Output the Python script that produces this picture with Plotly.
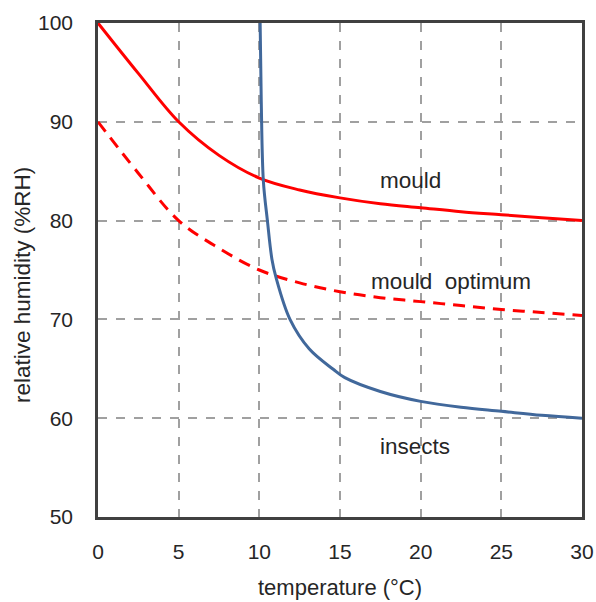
import plotly.graph_objects as go

# data
temp_mould = [0, 2.5, 5, 7.5, 10, 12.5, 15, 17.5, 20, 22.5, 25, 27.5, 30]
rh_mould = [100, 94.9, 90, 86.6, 84.3, 83.1, 82.3, 81.7, 81.3, 80.9, 80.6, 80.3, 80.0]
rh_mould_opt = [90, 84.8, 80, 77.2, 75.0, 73.7, 72.8, 72.2, 71.8, 71.4, 71.0, 70.7, 70.4]

temp_insects = [10.05, 10.12, 10.25, 10.5, 10.78, 11.04, 11.9, 13.1, 14.58, 15.3, 17.5, 20, 22.5, 25, 27.5, 30]
rh_insects = [100, 92, 84, 80, 76.1, 74.2, 70, 67.0, 64.95, 64.1, 62.7, 61.7, 61.1, 60.7, 60.3, 60.0]

x_ticks = [0, 5, 10, 15, 20, 25, 30]
y_ticks = [50, 60, 70, 80, 90, 100]

labels = ["mould", "mould  optimum", "insects"]
label_x = [19.37, 21.85, 19.67]
label_y = [84.1, 73.8, 57.1]

x_title = "temperature (°C)"
y_title = "relative humidity (%RH)"

FONT = "Liberation Sans, Arial, sans-serif"
W, H = 596, 602
ML, MR, MT, MB = 98, 14, 23, 85
PW, PH = W - ML - MR, H - MT - MB

fig = go.Figure()
fig.add_trace(go.Scatter(x=temp_mould, y=rh_mould, mode="lines",
                         line=dict(color="#ff0000", width=3, shape="spline", smoothing=1.0)))
fig.add_trace(go.Scatter(x=temp_mould, y=rh_mould_opt, mode="lines",
                         line=dict(color="#ff0000", width=3, dash="12px,8px", shape="spline", smoothing=1.0)))
fig.add_trace(go.Scatter(x=temp_insects, y=rh_insects, mode="lines",
                         line=dict(color="#41689b", width=3, shape="spline", smoothing=1.0)))

for t, xx, yy in zip(labels, label_x, label_y):
    fig.add_annotation(x=xx, y=yy, text=t, showarrow=False,
                       font=dict(family=FONT, size=22.5, color="#262626"))

# axis titles placed as paper annotations (pixel positions converted to paper units)
fig.add_annotation(text=x_title, xref="paper", yref="paper",
                   x=(340 - ML) / PW, y=(MT + PH - 587) / PH,
                   xanchor="center", yanchor="middle", showarrow=False,
                   font=dict(family=FONT, size=22, color="#262626"))
fig.add_annotation(text=y_title, xref="paper", yref="paper",
                   x=(22 - ML) / PW, y=(MT + PH - 285) / PH, textangle=-90,
                   xanchor="center", yanchor="middle", showarrow=False,
                   font=dict(family=FONT, size=22.5, color="#262626"))

fig.update_layout(
    width=W, height=H,
    margin=dict(l=ML, r=MR, t=MT, b=MB),
    paper_bgcolor="white", plot_bgcolor="white",
    showlegend=False,
    font=dict(family=FONT, size=21, color="#262626"),
)
fig.update_xaxes(
    range=[0, 30], tickvals=x_ticks, ticktext=[str(v) for v in x_ticks],
    showgrid=True, gridcolor="#a0a0a0", gridwidth=1.5, griddash="dash",
    showline=True, linecolor="#404040", linewidth=2.5, mirror=True,
    ticks="outside", ticklen=14, tickcolor="rgba(0,0,0,0)",
    zeroline=False, automargin=False,
    tickfont=dict(size=21),
)
fig.update_yaxes(
    range=[50, 100], tickvals=y_ticks, ticktext=[str(v) for v in y_ticks],
    showgrid=True, gridcolor="#a0a0a0", gridwidth=1.5, griddash="dash",
    showline=True, linecolor="#404040", linewidth=2.5, mirror=True,
    ticks="outside", ticklen=18, tickcolor="rgba(0,0,0,0)",
    zeroline=False, automargin=False,
    tickfont=dict(size=21),
)

fig.write_html("out.html", config={"displayModeBar": False},
               post_script="document.body.style.margin='0';document.body.style.overflow='hidden';")
